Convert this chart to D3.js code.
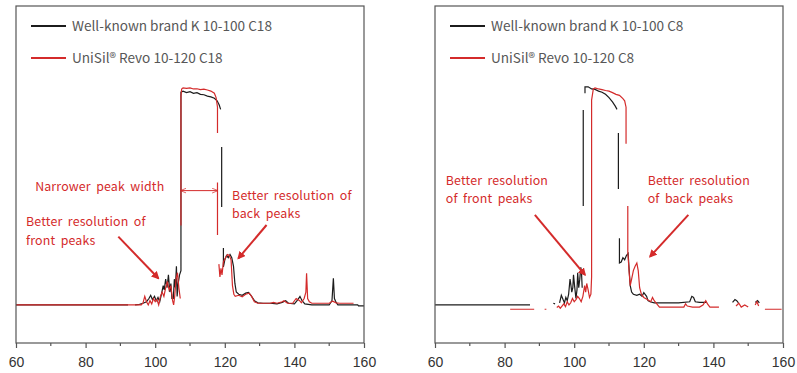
<!DOCTYPE html>
<html>
<head>
<meta charset="utf-8">
<script src="https://cdn.jsdelivr.net/npm/d3@7"></script>
<style>
  body { margin: 0; background: #fff; }
  svg { display: block; }
</style>
</head>
<body>
<div id="chart"></div>
<script>
// x ticks (retention, min) and intensity (0 = baseline, ~100 = flat top)
const xTicks = [60, 80, 100, 120, 140, 160];
const xMinorTicks = [70, 90, 110, 130, 150];

// null = gap in the trace
const leftBlack = [
  [60, 0], [92.2, 0], null, [94.2, 0], [95.5, 0.3], [96.5, 0.8], [97.5, 1.5], [98.2, 3], [98.7, 4.5],
  [99.2, 2.5], [99.8, 4], [100.3, 2], [100.8, 3.5], [101.3, 1.5], [101.8, 5], [102.3, 9], [102.6, 7],
  [103, 12], [103.4, 8], [103.8, 14], [104.2, 6], [104.5, 10], [104.8, 3], [105.2, 3], [105.5, 12],
  [105.8, 8], [106.1, 18], [106.3, 4], [106.6, 10], [107, 14], [107.4, 16], [107.4, 99], [108, 99.5],
  [109, 98.8], [110, 99.2], [111, 98.5], [112, 98.8], [113, 98], [114, 97.8], [115, 97.2], [116, 96.8],
  [117, 96.2], [117.8, 95], [118.4, 93], [118.8, 91], null, [119.1, 73.5], [119.1, 45.6], null,
  [119.6, 26.5], [119.6, 17.7], [120, 21], [120.5, 23], [121, 22], [121.5, 23.5], [122, 22], [122.5, 18],
  [122.9, 10], [123.3, 6], [124, 5], [125, 4.5], [126, 5.5], [126.8, 5.8], [127.5, 4.5], [128.5, 2],
  [129.5, 1], [131, 0.8], [133, 0.8], [135, 0.5], [136.5, 1.2], [137.5, 2], [138.3, 0.8], [140, 0.5],
  [141, 2.5], [141.6, 4], [142.2, 2], [143, 0.5], [145, 0], [150, 0], [150.8, 2], [151.2, 12.4],
  [151.5, 3], [152, 1.2], [152.5, 0], [158.2, 0], [158.4, -0.4], [160, -0.4]
];
const leftRed = [
  [60, 0], [96, 0], [96.5, 1], [97, 4], [97.5, 1.5], [98, 0], [98.5, 2], [99, 0.5], [99.5, 3],
  [100, 1.5], [100.5, 2.5], [101, 0], [101.5, 4], [102, 6], [102.5, 4], [103, 8], [103.5, 11], [104, 7],
  [104.5, 9], [105, 2], [105.3, 0], [105.6, 4], [106, 12], [106.4, 15], [106.8, 8], [107.2, 3],
  null, [107.4, 37], [107.4, 97], [107.6, 100.5], [108, 101], [109, 100.8], [110, 101], [111, 100.5],
  [112, 100.6], [113, 100.2], [114, 100.4], [115, 100], [116, 99.5], [117, 98.5], [117.5, 96.5],
  [117.9, 92], [117.9, 80], null, [117.9, 57], [117.9, 32.6], null, [118.3, 19], [118.6, 13],
  [118.9, 17], [119.2, 14], [119.6, 20], [120.2, 22], [120.8, 23.5], [121.3, 23], [121.8, 21],
  [122.2, 9], [122.6, 5], [123, 4], [124, 4.5], [125, 3.8], [126, 5], [127, 5.5], [127.7, 4],
  [128.5, 1.5], [129.5, 0.8], [133, 0.8], [134, 1.2], [135, 0.8], [136.5, 1.5], [137, 2], [138, 0.8],
  [139.5, 0.8], [140.5, 3], [141.5, 2], [142, 1], [142.8, 3], [143.3, 6], [143.5, 14.7], [143.8, 3],
  [144.3, 1.5], [145, 0.8], [150, 0.8], [151, 1.8], [152, 1], [153, 0.8], [157, 0.8]
];
const rightBlack = [
  [60, 0], [87.3, 0], null, [94, 0.8], [94.5, 0.5], null, [95.8, 1], [96.3, 4.5], [96.8, 2.5],
  [97.2, 1], [97.6, 3.5], [98, 2], [98.4, 5], [98.8, 12], [99, 10], [99.3, 6], [99.6, 8], [99.8, 14],
  [100.1, 9], [100.5, 3], [100.8, 7], [101, 15], [101.3, 8], [101.6, 12], [101.9, 17.5], [102.1, 15],
  [102.3, 8], null, [102.6, 46], [102.6, 90.7], null, [103.1, 98.5], [103.1, 101.5],
  [104, 101.5], [105, 100.5], [106, 100.3], [107, 99.5], [108, 99], [109, 98], [110, 96.5],
  [111, 94.5], [111.8, 92.5], [112.3, 91], null, [112.7, 80], [112.7, 54], null, [113, 31],
  [113, 19.5], [113.5, 20], [114, 22], [114.5, 21], [115, 23], [115.5, 24], [115.8, 16], [116.1, 9],
  [116.5, 6], [117, 5], [118, 4.5], [118.8, 5], [119.5, 4], [120, 5.7], [120.8, 4], [121.2, 2],
  [121.8, 1.5], [123, 1], [126, 1], [130, 1], [133.2, 1.5], [133.8, 4], [134.3, 3.5], [134.8, 1.5],
  [136, 1.2], [138, 1.2], null, [145.5, 1.2], [146.2, 2.5], [146.7, 2], [147.2, 1], null,
  [152, 1.2], [152.7, 2], [153.2, 1]
];
const rightRed = [
  [81.6, -2], [88.5, -2], null, [91.5, -2], [92, -2], null, [95, -1.2], [95.5, -0.5], [96, -1.5],
  [96.5, -0.5], [97, 0.5], [97.5, -0.8], [98, 1.5], [98.5, 0], [99, 1], [99.5, 3], [100, 1.5],
  [100.5, 2.5], [101, 4], [101.5, 3], [102, 1.5], [102.5, 4], [103, 9], [103.3, 6], [103.6, 10],
  [104, 7], [104.4, 3.5], [104.8, 5], [105, 13], [105, 95.3], [105.5, 100.5], [106, 101],
  [107, 100.5], [108, 100.2], [109, 99.8], [110, 99.5], [111, 98.8], [112, 98], [113, 97.5],
  [114, 96], [114.5, 95], [114.9, 92], [114.9, 75], null, [115.4, 46], [115.4, 24.7], [115.8, 15],
  [116.1, 9], [116.5, 12], [117, 16], [117.5, 18], [118, 19.5], [118.4, 16], [118.8, 8], [119.3, 5],
  [120, 3.5], [121, 2.5], [122, 1.5], [122.5, 3.5], [123, 2], [123.5, 1], [124.5, -1], [128, -1],
  [131.5, -1], [132, 0.5], [132.5, -0.5], [134, -1], [136, -1], [137, 0], [137.8, 2], [138.3, 0.5],
  [139, -1], [141.6, -1], null, [146.5, -0.5], [147.3, 0.8], [148, -1], [149, 0], [150, -1], null,
  [152, 0], [152.5, 1.5], [153, -0.5], null, [154.8, -2], [159.6, -2]
];

const leftLegend = ['Well-known brand K 10-100 C18', 'UniSil® Revo 10-120 C18'];
const rightLegend = ['Well-known brand K 10-100 C8', 'UniSil® Revo 10-120 C8'];

// annotations: text lines [x, y, text] and arrows [x1, y1, x2, y2] in data units
const leftNotes = [
  [65.5, 53, 'Narrower peak width'],
  [122.1, 49, 'Better resolution of'],
  [122.1, 40.5, 'back peaks'],
  [62.9, 36.7, 'Better resolution of'],
  [62.9, 28.1, 'front peaks']
];
const leftArrows = [[89.4, 31.8, 100.9, 12.4], [132.0, 37.2, 123.9, 21.7]];
const leftWidthArrow = [107.4, 117.9, 53.2];
const rightNotes = [
  [63.1, 56, 'Better resolution'],
  [63.1, 47.4, 'of  front peaks'],
  [121.1, 56, 'Better resolution'],
  [121.1, 47.4, 'of back peaks']
];
const rightArrows = [[88.7, 41.9, 103.1, 14], [132.8, 41.9, 121.8, 22.5]];

const WIDTH = 797;
const HEIGHT = 373;
const PANEL_W = 348;
const PANEL_H = 337;
const PANEL_TOP = 6;
const BLACK = '#1c1c1c';
const RED = '#d42b2b';

const svg = d3.select('#chart').append('svg').attr('width', WIDTH).attr('height', HEIGHT);

const defs = svg.append('defs');
defs.append('marker')
  .attr('id', 'head')
  .attr('viewBox', '0 0 10 10')
  .attr('refX', 8).attr('refY', 5)
  .attr('markerWidth', 4).attr('markerHeight', 4)
  .attr('orient', 'auto-start-reverse')
  .append('path').attr('d', 'M0,0L10,5L0,10z').attr('fill', RED);
defs.append('marker')
  .attr('id', 'smallhead')
  .attr('viewBox', '0 0 10 10')
  .attr('refX', 9).attr('refY', 5)
  .attr('markerWidth', 6).attr('markerHeight', 6)
  .attr('orient', 'auto-start-reverse')
  .append('path').attr('d', 'M0,1L10,5L0,9').attr('fill', 'none').attr('stroke', RED).attr('stroke-width', 1.2);

const drawPanel = (left, black, red, legend, notes, arrows, widthArrow) => {
  const g = svg.append('g').attr('transform', `translate(${left},${PANEL_TOP})`);
  const x = d3.scaleLinear().domain([60, 160]).range([0, PANEL_W]);
  const y = d3.scaleLinear().domain([-17.7, 139.1]).range([PANEL_H, 0]);

  const line = d3.line()
    .defined(d => d !== null)
    .x(d => x(d[0]))
    .y(d => y(d[1]));

  g.append('path').datum(black).attr('d', line)
    .attr('fill', 'none').attr('stroke', BLACK).attr('stroke-width', 1.2);
  g.append('path').datum(red).attr('d', line)
    .attr('fill', 'none').attr('stroke', RED).attr('stroke-width', 1.2);

  // frame
  g.append('rect').attr('width', PANEL_W).attr('height', PANEL_H)
    .attr('fill', 'none').attr('stroke', '#555').attr('stroke-width', 1.2);

  const xAxis = d3.axisBottom(x).tickValues(xTicks).tickSize(5).tickSizeOuter(0).tickPadding(9);
  const ax = g.append('g').attr('transform', `translate(0,${PANEL_H})`).call(xAxis);
  ax.select('.domain').remove();
  ax.selectAll('line').attr('stroke', '#555').attr('stroke-width', 1.2);
  ax.selectAll('text')
    .attr('fill', '#333')
    .style('font-family', '"Liberation Sans", Arial, sans-serif')
    .style('font-size', '14px');
  g.append('g').selectAll('line').data(xMinorTicks).join('line')
    .attr('x1', d => x(d)).attr('x2', d => x(d))
    .attr('y1', PANEL_H).attr('y2', PANEL_H + 3)
    .attr('stroke', '#555').attr('stroke-width', 1.2);

  // legend
  const lg = g.append('g').attr('transform', 'translate(15,20)');
  legend.forEach((name, i) => {
    const row = lg.append('g').attr('transform', `translate(0,${i * 32})`);
    row.append('line').attr('x1', 0).attr('x2', 35)
      .attr('stroke', i === 0 ? BLACK : RED).attr('stroke-width', 2);
    row.append('text').attr('x', 41).attr('y', 5)
      .attr('fill', '#575757')
      .style('font-family', '"Noto Sans CJK SC", "Noto Sans", sans-serif')
      .style('font-size', '13.6px')
      .text(name);
  });

  // annotations
  g.append('g').selectAll('text').data(notes).join('text')
    .attr('x', d => x(d[0])).attr('y', d => y(d[1]))
    .attr('fill', RED)
    .style('font-family', '"Noto Sans CJK SC", "Noto Sans", sans-serif')
    .style('font-size', '12.4px')
    .style('letter-spacing', '0.15px')
    .style('word-spacing', '2.5px')
    .text(d => d[2]);

  g.append('g').selectAll('line').data(arrows).join('line')
    .attr('x1', d => x(d[0])).attr('y1', d => y(d[1]))
    .attr('x2', d => x(d[2])).attr('y2', d => y(d[3]))
    .attr('stroke', RED).attr('stroke-width', 2)
    .attr('marker-end', 'url(#head)');

  if (widthArrow) {
    g.append('line')
      .attr('x1', x(widthArrow[0])).attr('x2', x(widthArrow[1]))
      .attr('y1', y(widthArrow[2])).attr('y2', y(widthArrow[2]))
      .attr('stroke', RED).attr('stroke-width', 1)
      .attr('marker-start', 'url(#smallhead)')
      .attr('marker-end', 'url(#smallhead)');
  }
};

drawPanel(16, leftBlack, leftRed, leftLegend, leftNotes, leftArrows, leftWidthArrow);
drawPanel(435, rightBlack, rightRed, rightLegend, rightNotes, rightArrows, null);
</script>
</body>
</html>
